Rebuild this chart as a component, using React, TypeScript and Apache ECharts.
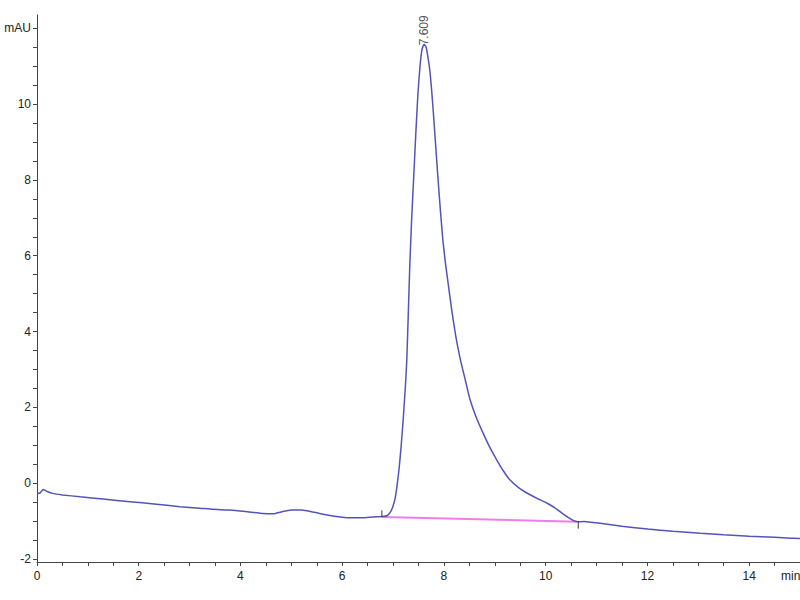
import React, { useEffect, useRef } from "react";
import * as echarts from "echarts";

const times = [
  0.0, 0.06, 0.12, 0.2, 0.3, 0.5, 0.85, 1.3, 1.83, 2.3, 2.81, 3.2, 3.46, 3.79, 4.1, 4.44, 4.65, 4.8, 5.0, 5.2,
  5.45, 5.7, 6.1, 6.4, 6.61, 6.8, 6.88, 6.95, 7.0, 7.04, 7.08, 7.12, 7.16, 7.2, 7.24, 7.27, 7.3, 7.33, 7.37,
  7.41, 7.45, 7.49, 7.53, 7.57, 7.61, 7.65, 7.69, 7.73, 7.78, 7.83, 7.88, 7.93, 7.98, 8.03, 8.09, 8.15, 8.23,
  8.32, 8.42, 8.51, 8.64, 8.77, 8.9, 9.04, 9.17, 9.3, 9.46, 9.63, 9.83, 10.03, 10.18, 10.32, 10.45, 10.55,
  10.64, 10.75, 11.07, 11.5, 12.01, 12.5, 13.04, 13.5, 14.0, 14.5, 15.0,
];
const absorbance = [
  -0.27, -0.26, -0.17, -0.22, -0.27, -0.31, -0.36, -0.42, -0.49, -0.55, -0.62, -0.66, -0.69, -0.71, -0.75,
  -0.8, -0.81, -0.76, -0.71, -0.71, -0.77, -0.84, -0.91, -0.91, -0.89, -0.88, -0.86, -0.76, -0.6, -0.4, -0.05,
  0.4, 1.0, 1.7, 2.5, 3.25, 4.5, 5.8, 7.1, 8.2, 9.3, 10.3, 11.0, 11.45, 11.58, 11.5, 11.2, 10.8, 10.0, 9.05,
  8.1, 7.2, 6.4, 5.8, 5.2, 4.6, 3.9, 3.28, 2.72, 2.22, 1.72, 1.32, 0.95, 0.61, 0.32, 0.08, -0.11, -0.26, -0.4,
  -0.53, -0.65, -0.79, -0.91, -0.99, -1.02, -1.01, -1.06, -1.14, -1.21, -1.27, -1.32, -1.36, -1.4, -1.43,
  -1.46,
];

const peakTime = 7.609;
const peakValue = 11.55;
const peakLabel = "7.609";

const baselineStart = [6.78, -0.89];
const baselineEnd = [10.62, -1.02];
const startMark = [
  [6.78, -0.89],
  [6.78, -0.72],
];
const endMark = [
  [10.64, -1.0],
  [10.64, -1.2],
];

const xTicks = Array.from({ length: 31 }, (_, i) => i * 0.5);
const xLabels = [0, 2, 4, 6, 8, 10, 12, 14];
const yTicks = Array.from({ length: 29 }, (_, i) => -2 + i * 0.5);
const yLabels = [-2, 0, 2, 4, 6, 8, 10, 12];

export default function App() {
  const ref = useRef<HTMLDivElement>(null);
  useEffect(() => {
    if (!ref.current) return;
    const chart = echarts.init(ref.current, undefined, { renderer: "svg" });
    const axisColor = "#444";
    const font = "Liberation Sans, Arial, sans-serif";
    chart.setOption({
      animation: false,
      backgroundColor: "#ffffff",
      grid: { left: 37, right: 0, top: 15, bottom: 38, containLabel: false },
      xAxis: {
        type: "value",
        min: 0,
        max: 15,
        axisLine: { show: true, onZero: false, lineStyle: { color: axisColor, width: 1 } },
        axisTick: { show: true, customValues: xTicks, length: 4, lineStyle: { color: axisColor } },
        axisLabel: {
          customValues: xLabels,
          color: "#222",
          fontSize: 12,
          fontFamily: font,
          margin: 8,
        },
        splitLine: { show: false },
      },
      yAxis: {
        type: "value",
        min: -2.08,
        max: 12.35,
        axisLine: { show: true, onZero: false, lineStyle: { color: axisColor, width: 1 } },
        axisTick: { show: true, customValues: yTicks, length: 4, lineStyle: { color: axisColor } },
        axisLabel: {
          customValues: yLabels,
          color: "#222",
          fontSize: 12,
          fontFamily: font,
          margin: 6,
          formatter: (v: number) => (v === 12 ? "mAU" : String(v)),
        },
        splitLine: { show: false },
      },
      graphic: [
        {
          type: "text",
          left: 781,
          top: 570,
          style: { text: "min", fill: "#222", fontSize: 12, fontFamily: font },
        },
      ],
      series: [
        {
          type: "line",
          data: [baselineStart, baselineEnd],
          symbol: "none",
          lineStyle: { color: "#f07ee8", width: 2 },
          z: 1,
        },
        {
          type: "line",
          data: times.map((t, i) => [t, absorbance[i]]),
          symbol: "none",
          smooth: 0.15,
          lineStyle: { color: "#5454b8", width: 1.5 },
          z: 2,
        },
        {
          type: "line",
          data: startMark,
          symbol: "none",
          lineStyle: { color: "#333", width: 1 },
          z: 3,
        },
        {
          type: "line",
          data: endMark,
          symbol: "none",
          lineStyle: { color: "#333", width: 1 },
          z: 3,
        },
        {
          type: "scatter",
          data: [[peakTime, peakValue]],
          symbolSize: 0,
          label: {
            show: true,
            formatter: peakLabel,
            position: "top",
            distance: 0,
            rotate: 90,
            align: "left",
            verticalAlign: "middle",
            color: "#222",
            fontSize: 12,
            fontFamily: font,
          },
          z: 4,
        },
      ],
    });
    return () => chart.dispose();
  }, []);
  return <div ref={ref} style={{ width: 800, height: 600, position: "absolute", left: 0, top: 0 }} />;
}
